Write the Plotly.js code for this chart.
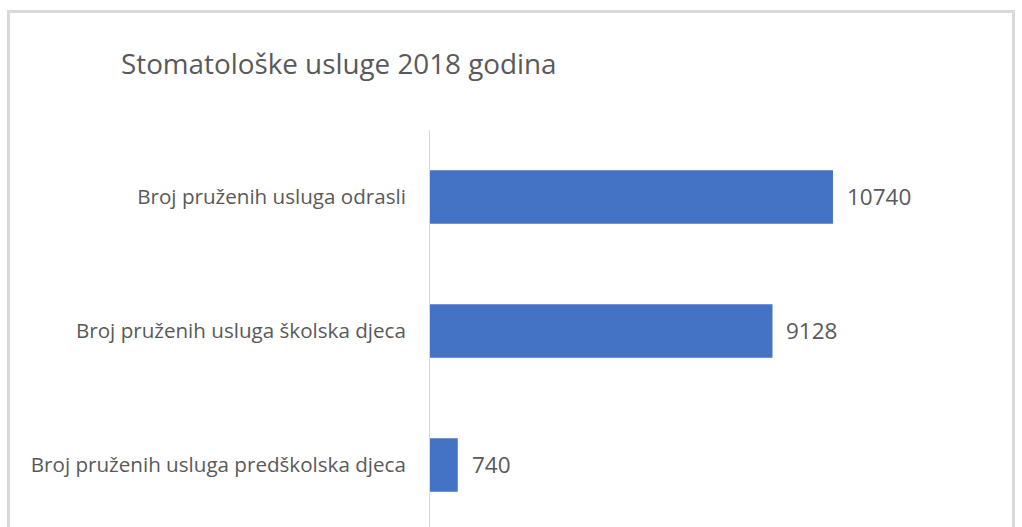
<!DOCTYPE html>
<html>
<head>
<meta charset="utf-8">
<script src="https://cdn.plot.ly/plotly-3.0.1.min.js"></script>
<style>
  html, body { margin: 0; padding: 0; background: #ffffff; overflow: hidden; }
  #wrap { position: relative; width: 1022px; height: 527px; overflow: hidden; }
  #chart { position: absolute; left: 0; top: 0; width: 1022px; height: 527px; }
  #frame { position: absolute; left: 7px; top: 10px; width: 1008px; height: 600px;
           border: 3px solid #d9d9d9; box-sizing: border-box; pointer-events: none; }
</style>
</head>
<body>
<div id="wrap">
  <div id="chart"></div>
  <div id="frame"></div>
</div>
<script>
const categories = [
  "Broj pruženih usluga odrasli",
  "Broj pruženih usluga školska djeca",
  "Broj pruženih usluga predškolska djeca"
];
const values = [10740, 9128, 740];
const chartTitle = "Stomatološke usluge 2018 godina";

const textColor = "#595959";
const fontFamily = "Open Sans, Noto Sans, sans-serif";

const trace = {
  type: "bar",
  orientation: "h",
  x: values,
  y: categories,
  width: 0.4,
  marker: { color: "#4472C4" },
  hoverinfo: "x+y"
};

const annotations = values.map((v, i) => ({
  x: v, y: categories[i], xref: "x", yref: "y",
  text: String(v), showarrow: false, xanchor: "left", yanchor: "middle",
  xshift: 12, font: { family: fontFamily, size: 22.5, color: textColor }
}));

const layout = {
  width: 1022, height: 527,
  margin: { l: 430, r: 12, t: 130, b: 0, pad: 0 },
  paper_bgcolor: "#ffffff", plot_bgcolor: "#ffffff",
  showlegend: false,
  title: {
    text: chartTitle,
    xref: "container", yref: "container",
    x: 121 / 1022, xanchor: "left",
    y: 1 - 64 / 527, yanchor: "middle",
    font: { family: fontFamily, size: 27.8, color: textColor }
  },
  xaxis: {
    range: [0, 15458], visible: false, showgrid: false, zeroline: false, fixedrange: true
  },
  yaxis: {
    type: "category",
    range: [2.463, -0.5],
    showline: true, linecolor: "#d9d9d9", linewidth: 1,
    showgrid: false, zeroline: false,
    ticks: "outside", ticklen: 19, tickcolor: "rgba(0,0,0,0)",
    tickfont: { family: fontFamily, size: 20.6, color: textColor },
    fixedrange: true
  },
  annotations: annotations
};

Plotly.newPlot("chart", [trace], layout, { displayModeBar: false, staticPlot: true });
</script>
</body>
</html>
